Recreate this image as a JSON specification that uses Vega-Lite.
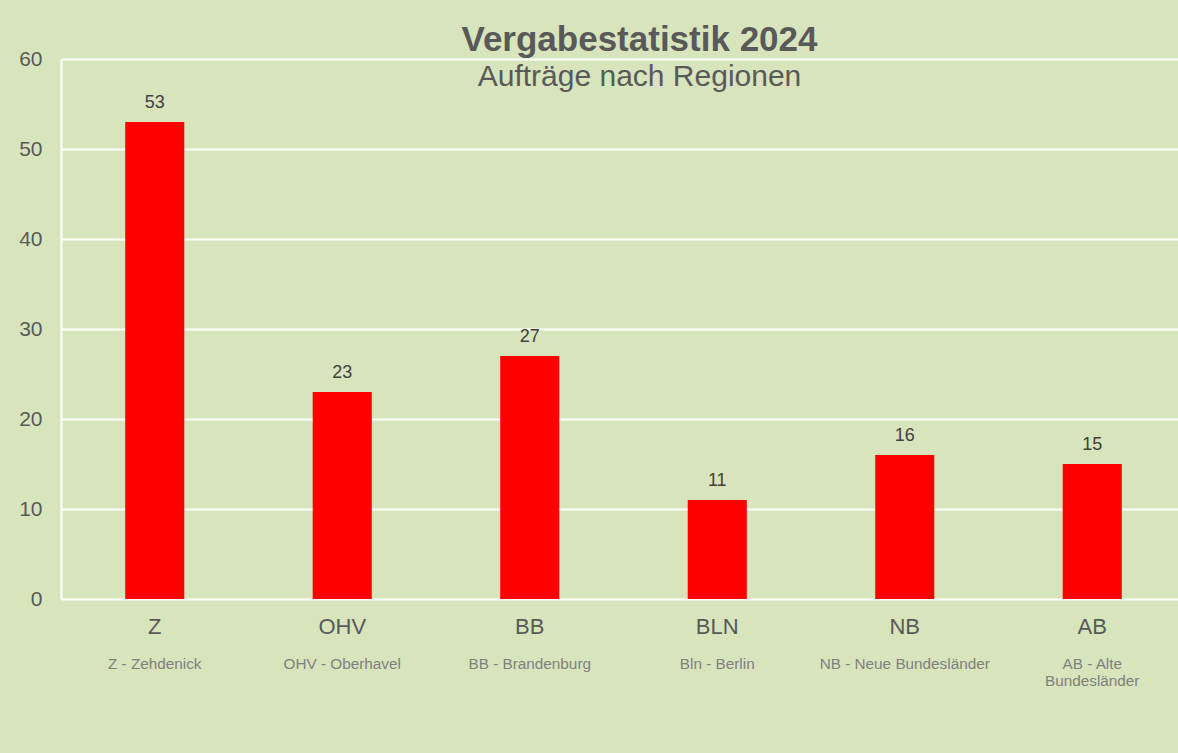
{
  "$schema": "https://vega.github.io/schema/vega-lite/v6.json",
  "autosize": {"type": "none"},
  "width": 1117,
  "height": 540,
  "padding": {"left": 61, "top": 59, "right": 0, "bottom": 154},
  "background": "#d8e4bc",
  "config": {
    "view": {"stroke": null},
    "font": "Liberation Sans"
  },
  "title": {
    "text": "Vergabestatistik 2024",
    "subtitle": "Aufträge nach Regionen",
    "anchor": "middle",
    "frame": "group",
    "dx": 20,
    "offset": -44,
    "font": "Liberation Sans",
    "fontSize": 35,
    "fontWeight": "bold",
    "color": "#595959",
    "subtitleFont": "Liberation Sans",
    "subtitleFontSize": 30,
    "subtitleColor": "#595959",
    "subtitlePadding": 4
  },
  "data": {
    "values": [
      {"region": "Z", "name": "Z - Zehdenick", "auftraege": 53},
      {"region": "OHV", "name": "OHV - Oberhavel", "auftraege": 23},
      {"region": "BB", "name": "BB - Brandenburg", "auftraege": 27},
      {"region": "BLN", "name": "Bln - Berlin", "auftraege": 11},
      {"region": "NB", "name": "NB - Neue Bundesländer", "auftraege": 16},
      {"region": "AB", "name": "AB - Alte\nBundesländer", "auftraege": 15}
    ]
  },
  "encoding": {
    "x": {
      "field": "region",
      "type": "nominal",
      "sort": null,
      "scale": {"range": [0, 1125], "paddingInner": 0.685, "paddingOuter": 0.3425},
      "axis": {
        "title": null,
        "labelAngle": 0,
        "labelFontSize": 22,
        "labelColor": "#595959",
        "labelPadding": 17,
        "ticks": false,
        "domain": false,
        "grid": false
      }
    }
  },
  "layer": [
    {
      "mark": {"type": "bar", "color": "#ff0000"},
      "encoding": {
        "y": {
          "field": "auftraege",
          "type": "quantitative",
          "scale": {"domain": [0, 60]},
          "axis": {
            "title": null,
            "values": [0, 10, 20, 30, 40, 50, 60],
            "labelFontSize": 21,
            "labelColor": "#595959",
            "labelPadding": 19,
            "ticks": false,
            "grid": true,
            "gridColor": "#ffffff",
            "gridWidth": 2,
            "gridOpacity": 1,
            "domain": true,
            "domainColor": "#ffffff",
            "domainWidth": 2
          }
        }
      }
    },
    {
      "mark": {"type": "text", "baseline": "bottom", "dy": -10, "fontSize": 18, "color": "#404040"},
      "encoding": {
        "y": {"field": "auftraege", "type": "quantitative"},
        "text": {"field": "auftraege", "type": "quantitative"}
      }
    },
    {
      "mark": {"type": "text", "baseline": "top", "dy": 58, "fontSize": 15.3, "color": "#7f7f7f", "lineBreak": "\n", "lineHeight": 17},
      "encoding": {
        "y": {"datum": 0},
        "text": {"field": "name", "type": "nominal"}
      }
    }
  ]
}
